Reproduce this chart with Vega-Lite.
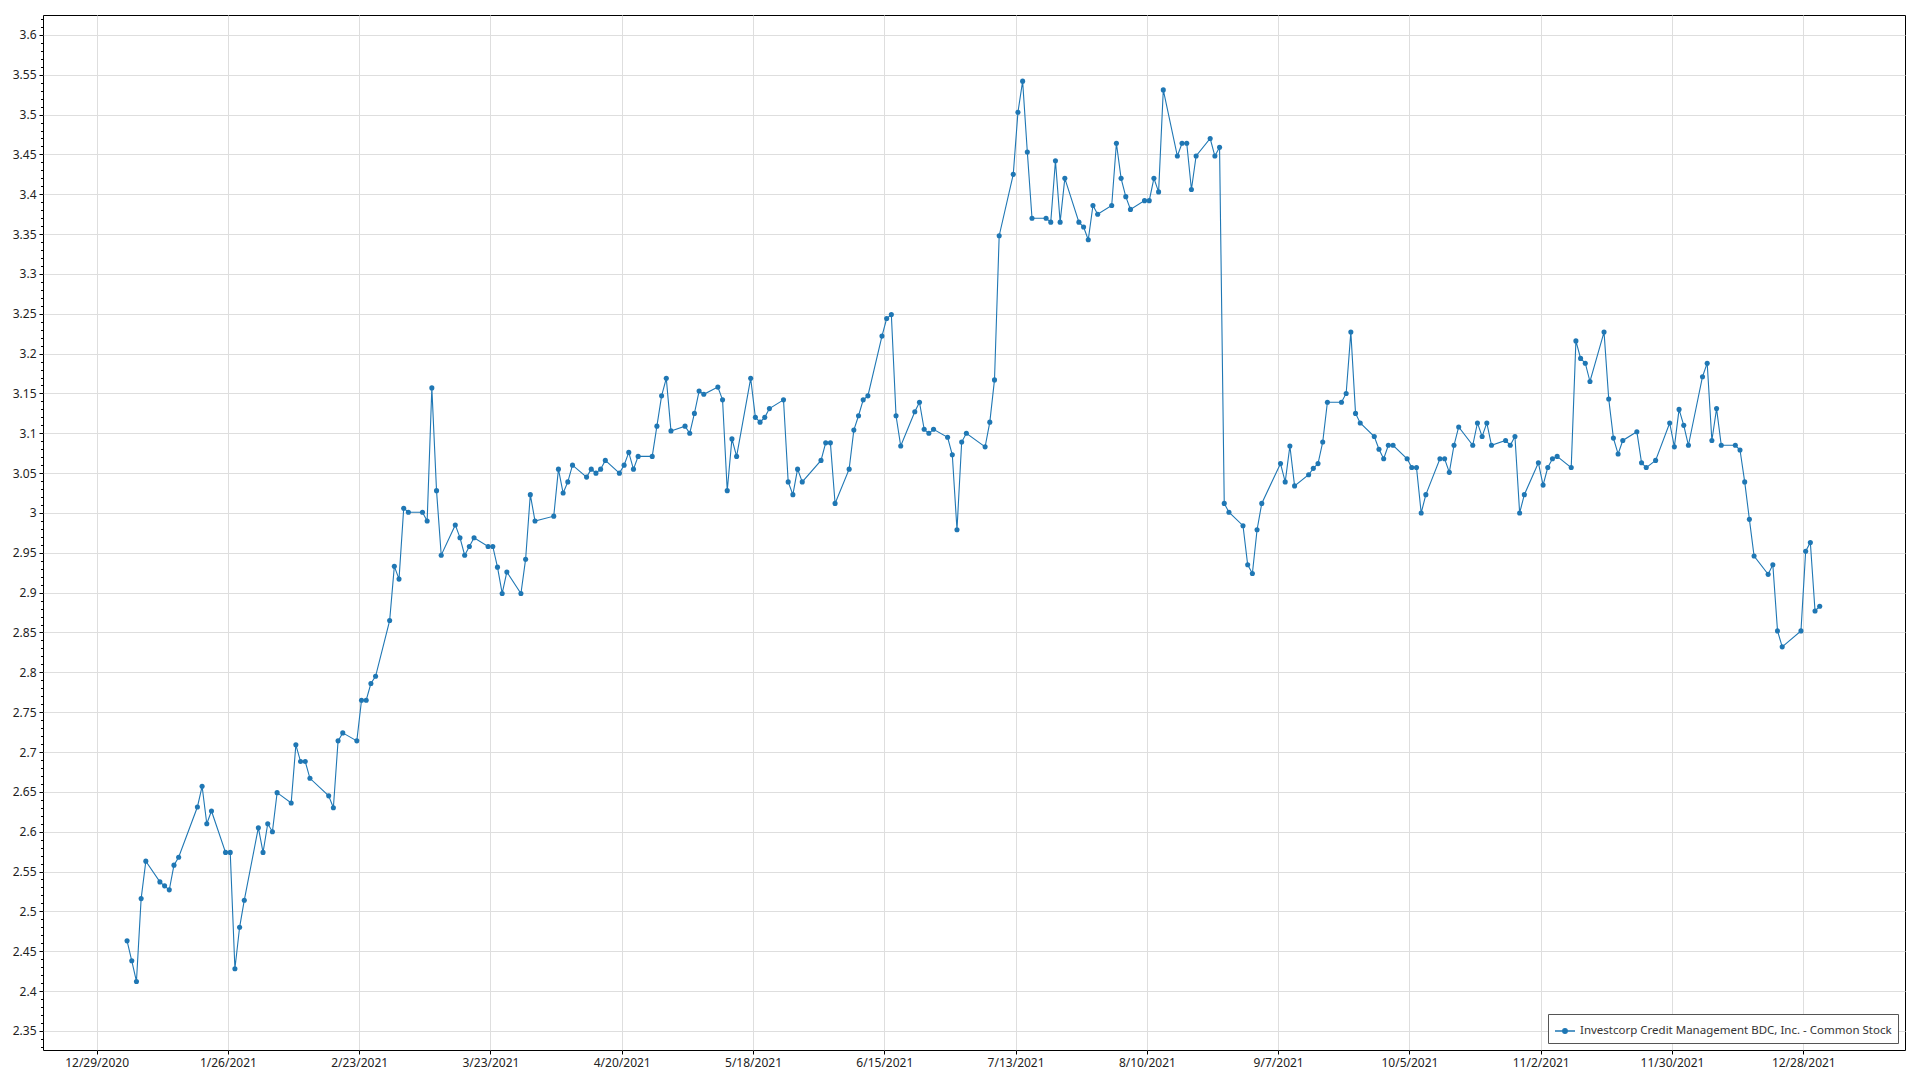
{
  "$schema": "https://vega.github.io/schema/vega-lite/v6.json",
  "width": 1862,
  "height": 1035,
  "autosize": {"type": "none"},
  "padding": {"left": 43, "top": 15, "right": 15, "bottom": 30},
  "background": "white",
  "config": {
    "view": {"stroke": "#000000", "strokeWidth": 1},
    "font": "Noto Sans",
    "axis": {
      "labelFont": "Noto Sans",
      "labelFontSize": 12,
      "labelColor": "#222222",
      "gridColor": "#dedede",
      "gridWidth": 1,
      "tickColor": "#000000",
      "domain": false,
      "title": null
    },
    "legend": {
      "orient": "bottom-right",
      "offset": 7,
      "strokeColor": "#555555",
      "fillColor": "#ffffff",
      "padding": 6,
      "cornerRadius": 0,
      "labelFont": "Noto Sans",
      "labelFontSize": 11.5,
      "labelColor": "#333333",
      "labelLimit": 600,
      "symbolType": "M -1 0 L 1 0 M 0.22 0 A 0.22 0.22 0 1 1 -0.22 0 A 0.22 0.22 0 1 1 0.22 0 Z",
      "symbolSize": 400,
      "symbolStrokeWidth": 1.5,
      "symbolFillColor": "#1f77b4",
      "symbolStrokeColor": "#1f77b4",
      "title": null
    }
  },
  "data": {
    "values": [
      {"date": "2021-01-04", "price": 2.463}, {"date": "2021-01-05", "price": 2.438}, {"date": "2021-01-06", "price": 2.412}, {"date": "2021-01-07", "price": 2.516}, {"date": "2021-01-08", "price": 2.563},
      {"date": "2021-01-11", "price": 2.537}, {"date": "2021-01-12", "price": 2.532}, {"date": "2021-01-13", "price": 2.527}, {"date": "2021-01-14", "price": 2.558}, {"date": "2021-01-15", "price": 2.568},
      {"date": "2021-01-19", "price": 2.631}, {"date": "2021-01-20", "price": 2.657}, {"date": "2021-01-21", "price": 2.610}, {"date": "2021-01-22", "price": 2.626},
      {"date": "2021-01-25", "price": 2.574}, {"date": "2021-01-26", "price": 2.574}, {"date": "2021-01-27", "price": 2.428}, {"date": "2021-01-28", "price": 2.480}, {"date": "2021-01-29", "price": 2.514},
      {"date": "2021-02-01", "price": 2.605}, {"date": "2021-02-02", "price": 2.574}, {"date": "2021-02-03", "price": 2.610}, {"date": "2021-02-04", "price": 2.600}, {"date": "2021-02-05", "price": 2.649},
      {"date": "2021-02-08", "price": 2.636}, {"date": "2021-02-09", "price": 2.709}, {"date": "2021-02-10", "price": 2.688}, {"date": "2021-02-11", "price": 2.688}, {"date": "2021-02-12", "price": 2.667},
      {"date": "2021-02-16", "price": 2.645}, {"date": "2021-02-17", "price": 2.630}, {"date": "2021-02-18", "price": 2.714}, {"date": "2021-02-19", "price": 2.724},
      {"date": "2021-02-22", "price": 2.714}, {"date": "2021-02-23", "price": 2.765}, {"date": "2021-02-24", "price": 2.765}, {"date": "2021-02-25", "price": 2.786}, {"date": "2021-02-26", "price": 2.795},
      {"date": "2021-03-01", "price": 2.865}, {"date": "2021-03-02", "price": 2.933}, {"date": "2021-03-03", "price": 2.917}, {"date": "2021-03-04", "price": 3.006}, {"date": "2021-03-05", "price": 3.001},
      {"date": "2021-03-08", "price": 3.001}, {"date": "2021-03-09", "price": 2.990}, {"date": "2021-03-10", "price": 3.157}, {"date": "2021-03-11", "price": 3.028}, {"date": "2021-03-12", "price": 2.947},
      {"date": "2021-03-15", "price": 2.985}, {"date": "2021-03-16", "price": 2.969}, {"date": "2021-03-17", "price": 2.947}, {"date": "2021-03-18", "price": 2.958}, {"date": "2021-03-19", "price": 2.969},
      {"date": "2021-03-22", "price": 2.958}, {"date": "2021-03-23", "price": 2.958}, {"date": "2021-03-24", "price": 2.932}, {"date": "2021-03-25", "price": 2.899}, {"date": "2021-03-26", "price": 2.926},
      {"date": "2021-03-29", "price": 2.899}, {"date": "2021-03-30", "price": 2.942}, {"date": "2021-03-31", "price": 3.023}, {"date": "2021-04-01", "price": 2.990},
      {"date": "2021-04-05", "price": 2.996}, {"date": "2021-04-06", "price": 3.055}, {"date": "2021-04-07", "price": 3.025}, {"date": "2021-04-08", "price": 3.039}, {"date": "2021-04-09", "price": 3.060},
      {"date": "2021-04-12", "price": 3.045}, {"date": "2021-04-13", "price": 3.055}, {"date": "2021-04-14", "price": 3.050}, {"date": "2021-04-15", "price": 3.055}, {"date": "2021-04-16", "price": 3.066},
      {"date": "2021-04-19", "price": 3.050}, {"date": "2021-04-20", "price": 3.060}, {"date": "2021-04-21", "price": 3.076}, {"date": "2021-04-22", "price": 3.055}, {"date": "2021-04-23", "price": 3.071},
      {"date": "2021-04-26", "price": 3.071}, {"date": "2021-04-27", "price": 3.109}, {"date": "2021-04-28", "price": 3.147}, {"date": "2021-04-29", "price": 3.169}, {"date": "2021-04-30", "price": 3.103},
      {"date": "2021-05-03", "price": 3.109}, {"date": "2021-05-04", "price": 3.100}, {"date": "2021-05-05", "price": 3.125}, {"date": "2021-05-06", "price": 3.153}, {"date": "2021-05-07", "price": 3.149},
      {"date": "2021-05-10", "price": 3.158}, {"date": "2021-05-11", "price": 3.142}, {"date": "2021-05-12", "price": 3.028}, {"date": "2021-05-13", "price": 3.093}, {"date": "2021-05-14", "price": 3.071},
      {"date": "2021-05-17", "price": 3.169}, {"date": "2021-05-18", "price": 3.120}, {"date": "2021-05-19", "price": 3.114}, {"date": "2021-05-20", "price": 3.120}, {"date": "2021-05-21", "price": 3.131},
      {"date": "2021-05-24", "price": 3.142}, {"date": "2021-05-25", "price": 3.039}, {"date": "2021-05-26", "price": 3.023}, {"date": "2021-05-27", "price": 3.055}, {"date": "2021-05-28", "price": 3.039},
      {"date": "2021-06-01", "price": 3.066}, {"date": "2021-06-02", "price": 3.088}, {"date": "2021-06-03", "price": 3.088}, {"date": "2021-06-04", "price": 3.012},
      {"date": "2021-06-07", "price": 3.055}, {"date": "2021-06-08", "price": 3.104}, {"date": "2021-06-09", "price": 3.122}, {"date": "2021-06-10", "price": 3.142}, {"date": "2021-06-11", "price": 3.147},
      {"date": "2021-06-14", "price": 3.222}, {"date": "2021-06-15", "price": 3.244}, {"date": "2021-06-16", "price": 3.249}, {"date": "2021-06-17", "price": 3.122}, {"date": "2021-06-18", "price": 3.084},
      {"date": "2021-06-21", "price": 3.127}, {"date": "2021-06-22", "price": 3.139}, {"date": "2021-06-23", "price": 3.105}, {"date": "2021-06-24", "price": 3.100}, {"date": "2021-06-25", "price": 3.105},
      {"date": "2021-06-28", "price": 3.095}, {"date": "2021-06-29", "price": 3.073}, {"date": "2021-06-30", "price": 2.979}, {"date": "2021-07-01", "price": 3.089}, {"date": "2021-07-02", "price": 3.100},
      {"date": "2021-07-06", "price": 3.083}, {"date": "2021-07-07", "price": 3.114}, {"date": "2021-07-08", "price": 3.167}, {"date": "2021-07-09", "price": 3.348},
      {"date": "2021-07-12", "price": 3.425}, {"date": "2021-07-13", "price": 3.503}, {"date": "2021-07-14", "price": 3.542}, {"date": "2021-07-15", "price": 3.453}, {"date": "2021-07-16", "price": 3.370},
      {"date": "2021-07-19", "price": 3.370}, {"date": "2021-07-20", "price": 3.365}, {"date": "2021-07-21", "price": 3.442}, {"date": "2021-07-22", "price": 3.365}, {"date": "2021-07-23", "price": 3.420},
      {"date": "2021-07-26", "price": 3.365}, {"date": "2021-07-27", "price": 3.359}, {"date": "2021-07-28", "price": 3.343}, {"date": "2021-07-29", "price": 3.386}, {"date": "2021-07-30", "price": 3.375},
      {"date": "2021-08-02", "price": 3.386}, {"date": "2021-08-03", "price": 3.464}, {"date": "2021-08-04", "price": 3.420}, {"date": "2021-08-05", "price": 3.397}, {"date": "2021-08-06", "price": 3.381},
      {"date": "2021-08-09", "price": 3.392}, {"date": "2021-08-10", "price": 3.392}, {"date": "2021-08-11", "price": 3.420}, {"date": "2021-08-12", "price": 3.403}, {"date": "2021-08-13", "price": 3.531},
      {"date": "2021-08-16", "price": 3.448}, {"date": "2021-08-17", "price": 3.464}, {"date": "2021-08-18", "price": 3.464}, {"date": "2021-08-19", "price": 3.406}, {"date": "2021-08-20", "price": 3.448},
      {"date": "2021-08-23", "price": 3.470}, {"date": "2021-08-24", "price": 3.448}, {"date": "2021-08-25", "price": 3.459}, {"date": "2021-08-26", "price": 3.012}, {"date": "2021-08-27", "price": 3.001},
      {"date": "2021-08-30", "price": 2.984}, {"date": "2021-08-31", "price": 2.935}, {"date": "2021-09-01", "price": 2.924}, {"date": "2021-09-02", "price": 2.979}, {"date": "2021-09-03", "price": 3.012},
      {"date": "2021-09-07", "price": 3.062}, {"date": "2021-09-08", "price": 3.039}, {"date": "2021-09-09", "price": 3.084}, {"date": "2021-09-10", "price": 3.034},
      {"date": "2021-09-13", "price": 3.048}, {"date": "2021-09-14", "price": 3.056}, {"date": "2021-09-15", "price": 3.062}, {"date": "2021-09-16", "price": 3.089}, {"date": "2021-09-17", "price": 3.139},
      {"date": "2021-09-20", "price": 3.139}, {"date": "2021-09-21", "price": 3.150}, {"date": "2021-09-22", "price": 3.227}, {"date": "2021-09-23", "price": 3.125}, {"date": "2021-09-24", "price": 3.113},
      {"date": "2021-09-27", "price": 3.096}, {"date": "2021-09-28", "price": 3.080}, {"date": "2021-09-29", "price": 3.068}, {"date": "2021-09-30", "price": 3.085}, {"date": "2021-10-01", "price": 3.085},
      {"date": "2021-10-04", "price": 3.068}, {"date": "2021-10-05", "price": 3.057}, {"date": "2021-10-06", "price": 3.057}, {"date": "2021-10-07", "price": 3.000}, {"date": "2021-10-08", "price": 3.023},
      {"date": "2021-10-11", "price": 3.068}, {"date": "2021-10-12", "price": 3.068}, {"date": "2021-10-13", "price": 3.051}, {"date": "2021-10-14", "price": 3.085}, {"date": "2021-10-15", "price": 3.108},
      {"date": "2021-10-18", "price": 3.085}, {"date": "2021-10-19", "price": 3.113}, {"date": "2021-10-20", "price": 3.096}, {"date": "2021-10-21", "price": 3.113}, {"date": "2021-10-22", "price": 3.085},
      {"date": "2021-10-25", "price": 3.091}, {"date": "2021-10-26", "price": 3.085}, {"date": "2021-10-27", "price": 3.096}, {"date": "2021-10-28", "price": 3.000}, {"date": "2021-10-29", "price": 3.023},
      {"date": "2021-11-01", "price": 3.063}, {"date": "2021-11-02", "price": 3.035}, {"date": "2021-11-03", "price": 3.057}, {"date": "2021-11-04", "price": 3.068}, {"date": "2021-11-05", "price": 3.071},
      {"date": "2021-11-08", "price": 3.057}, {"date": "2021-11-09", "price": 3.216}, {"date": "2021-11-10", "price": 3.194}, {"date": "2021-11-11", "price": 3.188}, {"date": "2021-11-12", "price": 3.165},
      {"date": "2021-11-15", "price": 3.227}, {"date": "2021-11-16", "price": 3.143}, {"date": "2021-11-17", "price": 3.094}, {"date": "2021-11-18", "price": 3.074}, {"date": "2021-11-19", "price": 3.091},
      {"date": "2021-11-22", "price": 3.102}, {"date": "2021-11-23", "price": 3.063}, {"date": "2021-11-24", "price": 3.057}, {"date": "2021-11-26", "price": 3.066},
      {"date": "2021-11-29", "price": 3.113}, {"date": "2021-11-30", "price": 3.083}, {"date": "2021-12-01", "price": 3.130}, {"date": "2021-12-02", "price": 3.110}, {"date": "2021-12-03", "price": 3.085},
      {"date": "2021-12-06", "price": 3.171}, {"date": "2021-12-07", "price": 3.188}, {"date": "2021-12-08", "price": 3.091}, {"date": "2021-12-09", "price": 3.131}, {"date": "2021-12-10", "price": 3.085},
      {"date": "2021-12-13", "price": 3.085}, {"date": "2021-12-14", "price": 3.079}, {"date": "2021-12-15", "price": 3.039}, {"date": "2021-12-16", "price": 2.992}, {"date": "2021-12-17", "price": 2.946},
      {"date": "2021-12-20", "price": 2.923}, {"date": "2021-12-21", "price": 2.935}, {"date": "2021-12-22", "price": 2.852}, {"date": "2021-12-23", "price": 2.832},
      {"date": "2021-12-27", "price": 2.852}, {"date": "2021-12-28", "price": 2.952}, {"date": "2021-12-29", "price": 2.963}, {"date": "2021-12-30", "price": 2.877}, {"date": "2021-12-31", "price": 2.883}
    ]
  },
  "layer": [
    {
      "mark": {"type": "line", "strokeWidth": 1.1, "interpolate": "linear"},
      "encoding": {
        "x": {
          "field": "date",
          "type": "temporal",
          "timeUnit": "utcyearmonthdate",
          "bandPosition": 0.5,
          "scale": {
            "type": "utc",
            "domain": [
              {"year": 2020, "month": 12, "date": 17, "hours": 13, "minutes": 40, "utc": true},
              {"year": 2022, "month": 1, "date": 18, "hours": 16, "minutes": 30, "utc": true}
            ]
          },
          "axis": {
            "values": [
              {"year": 2020, "month": 12, "date": 29, "utc": true},
              {"year": 2021, "month": 1, "date": 26, "utc": true},
              {"year": 2021, "month": 2, "date": 23, "utc": true},
              {"year": 2021, "month": 3, "date": 23, "utc": true},
              {"year": 2021, "month": 4, "date": 20, "utc": true},
              {"year": 2021, "month": 5, "date": 18, "utc": true},
              {"year": 2021, "month": 6, "date": 15, "utc": true},
              {"year": 2021, "month": 7, "date": 13, "utc": true},
              {"year": 2021, "month": 8, "date": 10, "utc": true},
              {"year": 2021, "month": 9, "date": 7, "utc": true},
              {"year": 2021, "month": 10, "date": 5, "utc": true},
              {"year": 2021, "month": 11, "date": 2, "utc": true},
              {"year": 2021, "month": 11, "date": 30, "utc": true},
              {"year": 2021, "month": 12, "date": 28, "utc": true}
            ],
            "labelExpr": "utcFormat(datum.value, '%-m/%-d/%Y')",
            "grid": true,
            "tickSize": 4,
            "labelPadding": 3,
            "labelAngle": 0
          }
        },
        "y": {
          "field": "price",
          "type": "quantitative",
          "scale": {"domain": [2.326, 3.625], "nice": false, "zero": false},
          "axis": {
            "values": [2.35, 2.4, 2.45, 2.5, 2.55, 2.6, 2.65, 2.7, 2.75, 2.8, 2.85, 2.9, 2.95, 3, 3.05, 3.1, 3.15, 3.2, 3.25, 3.3, 3.35, 3.4, 3.45, 3.5, 3.55, 3.6],
            "format": ".3~g",
            "grid": true,
            "tickSize": 4,
            "labelPadding": 3,
            "orient": "left"
          }
        },
        "color": {
          "datum": "Investcorp Credit Management BDC, Inc. - Common Stock",
          "type": "nominal",
          "scale": {"range": ["#1f77b4"]}
        }
      }
    },
    {
      "mark": {"type": "point", "filled": true, "size": 26, "opacity": 1},
      "encoding": {
        "x": {"field": "date", "type": "temporal", "timeUnit": "utcyearmonthdate", "bandPosition": 0.5},
        "y": {
          "field": "price",
          "type": "quantitative",
          "axis": {
            "orient": "left",
            "values": [2.33, 2.34, 2.36, 2.37, 2.38, 2.39, 2.41, 2.42, 2.43, 2.44, 2.46, 2.47, 2.48, 2.49, 2.51, 2.52, 2.53, 2.54, 2.56, 2.57, 2.58, 2.59, 2.61, 2.62, 2.63, 2.64, 2.66, 2.67, 2.68, 2.69, 2.71, 2.72, 2.73, 2.74, 2.76, 2.77, 2.78, 2.79, 2.81, 2.82, 2.83, 2.84, 2.86, 2.87, 2.88, 2.89, 2.91, 2.92, 2.93, 2.94, 2.96, 2.97, 2.98, 2.99, 3.01, 3.02, 3.03, 3.04, 3.06, 3.07, 3.08, 3.09, 3.11, 3.12, 3.13, 3.14, 3.16, 3.17, 3.18, 3.19, 3.21, 3.22, 3.23, 3.24, 3.26, 3.27, 3.28, 3.29, 3.31, 3.32, 3.33, 3.34, 3.36, 3.37, 3.38, 3.39, 3.41, 3.42, 3.43, 3.44, 3.46, 3.47, 3.48, 3.49, 3.51, 3.52, 3.53, 3.54, 3.56, 3.57, 3.58, 3.59, 3.61, 3.62],
            "labels": false,
            "grid": false,
            "tickSize": 2.5,
            "domain": false
          }
        },
        "color": {
          "datum": "Investcorp Credit Management BDC, Inc. - Common Stock",
          "type": "nominal"
        }
      }
    }
  ],
  "resolve": {"axis": {"y": "independent"}}
}
